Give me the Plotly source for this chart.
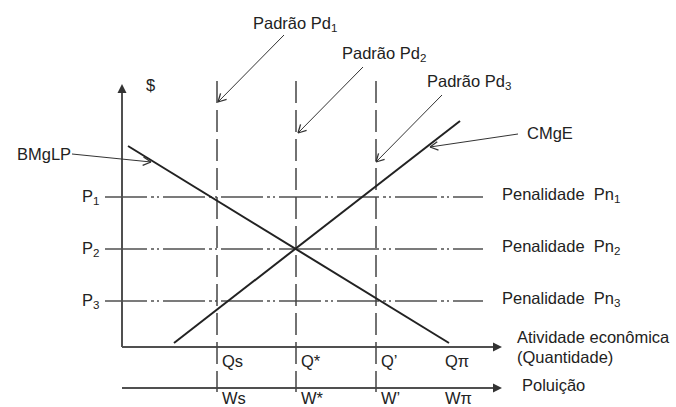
import math
import plotly.graph_objects as go

# ---------------- data (abstract units, origin at the axes crossing) ----------------
quantity_labels = ["Qs", "Q*", "Q’"]
quantity_values = [9.5, 17.4, 25.4]
pollution_labels = ["Ws", "W*", "W’"]
q_pi_label, w_pi_label = "Qπ", "Wπ"
q_pi_value = 32.1

price_labels = ["P<sub>1</sub>", "P<sub>2</sub>", "P<sub>3</sub>"]
price_values = [15.0, 9.8, 4.6]
penalty_labels = ["Penalidade\u00a0\u00a0Pn<sub>1</sub>", "Penalidade\u00a0\u00a0Pn<sub>2</sub>",
                  "Penalidade\u00a0\u00a0Pn<sub>3</sub>"]

bmglp_x = [0.6, 32.7]
bmglp_y = [20.1, 0.4]
cmge_x = [5.2, 33.8]
cmge_y = [0.4, 22.6]

standard_labels = ["Padrão Pd<sub>1</sub>", "Padrão Pd<sub>2</sub>", "Padrão Pd<sub>3</sub>"]
standard_text_pos = [(12.9, 32.3), (21.8, 29.3), (30.3, 26.5)]
standard_arrow_tail = [(16.2, 31.2), (24.1, 28.0), (32.0, 25.2)]
standard_arrow_tip = [(9.6, 24.5), (17.6, 21.4), (25.4, 18.5)]

curve_labels = ["BMgLP", "CMgE"]
curve_text_pos = [(-10.7, 19.3), (40.3, 21.4)]
curve_arrow_tail = [(-5.0, 19.3), (39.6, 21.3)]
curve_arrow_tip = [(2.9, 18.5), (30.8, 20.0)]

x_axis_end = 38.0
y_axis_end = 26.3
pollution_axis_y = -4.1
vline_top, vline_bottom = 26.6, -4.5
hline_left, hline_right = -1.7, 36.1

# ---------------- figure ----------------
AX = "#505050"
INK = "#222222"
FONT = "Liberation Sans, Arial, sans-serif"

fig = go.Figure()

def line(xs, ys, color=INK, width=1.5, dash="solid"):
    fig.add_trace(go.Scatter(x=xs, y=ys, mode="lines", hoverinfo="skip",
                             line=dict(color=color, width=width, dash=dash)))

# axes
line([0, 0], [0, y_axis_end - 0.6], AX, 2)
line([0, x_axis_end - 0.6], [0, 0], AX, 2)
line([0, x_axis_end - 0.6], [pollution_axis_y, pollution_axis_y], AX, 2)
fig.add_trace(go.Scatter(x=[0], y=[y_axis_end], mode="markers", hoverinfo="skip",
                         marker=dict(symbol="arrow-up", size=9, color="#333333",
                                     line=dict(width=0))))
fig.add_trace(go.Scatter(x=[x_axis_end, x_axis_end], y=[0, pollution_axis_y], mode="markers",
                         hoverinfo="skip",
                         marker=dict(symbol="arrow-right", size=9, color="#333333",
                                     line=dict(width=0))))

# penalty (dash-dot) lines
for p in price_values:
    line([hline_left, hline_right], [p, p], AX, 1.5, "42px,4px,3px,3px,2px,4px")

# standard (dashed) lines
for q in quantity_values:
    line([q, q], [vline_top, vline_bottom], "#444444", 1.5, "22px,7px")

# curves
line(bmglp_x, bmglp_y, INK, 2)
line(cmge_x, cmge_y, INK, 2)

# pointer arrows with open V heads
def pointer(tail, tip, head=0.9, ang=28):
    line([tail[0], tip[0]], [tail[1], tip[1]], "#333333", 1)
    a = math.atan2(tail[1] - tip[1], tail[0] - tip[0])
    for s in (-1, 1):
        b = a + s * math.radians(ang)
        line([tip[0] + head * math.cos(b), tip[0]],
             [tip[1] + head * math.sin(b), tip[1]], "#333333", 1.3)

for t, h in zip(standard_arrow_tail + curve_arrow_tail, standard_arrow_tip + curve_arrow_tip):
    pointer(t, h)

# text
def text(x, y, s, anchor="left"):
    fig.add_annotation(x=x, y=y, xref="x", yref="y", text=s, showarrow=False,
                       xanchor=anchor, yanchor="middle",
                       font=dict(family=FONT, size=16.5, color=INK))

text(2.8, 26.2, "$", "center")
for s, (x, y) in zip(standard_labels, standard_text_pos):
    text(x, y, s)
for s, (x, y) in zip(curve_labels, curve_text_pos):
    text(x, y, s)
for s, p in zip(price_labels, price_values):
    text(-4.2, p, s)
for s, p in zip(penalty_labels, price_values):
    text(37.8, p + 0.2, s)
for s, q in zip(quantity_labels, quantity_values):
    text(q + 0.3, -1.4, s)
for s, q in zip(pollution_labels, quantity_values):
    text(q + 0.3, -5.1, s)
text(q_pi_value, -1.4, q_pi_label)
text(q_pi_value, -5.1, w_pi_label)
text(39.3, 1.0, "Atividade econômica")
text(39.3, -1.0, "(Quantidade)")
text(39.8, -3.8, "Poluição")

fig.update_layout(
    width=676, height=407, margin=dict(l=0, r=0, t=0, b=0),
    paper_bgcolor="white", plot_bgcolor="white", showlegend=False,
    xaxis=dict(range=[-12.2, 55.4], visible=False, fixedrange=True),
    yaxis=dict(range=[-6.0, 34.7], visible=False, fixedrange=True),
)

fig.write_html("out.html", config={"displayModeBar": False},
               post_script="document.body.style.margin='0';document.body.style.overflow='hidden';")
